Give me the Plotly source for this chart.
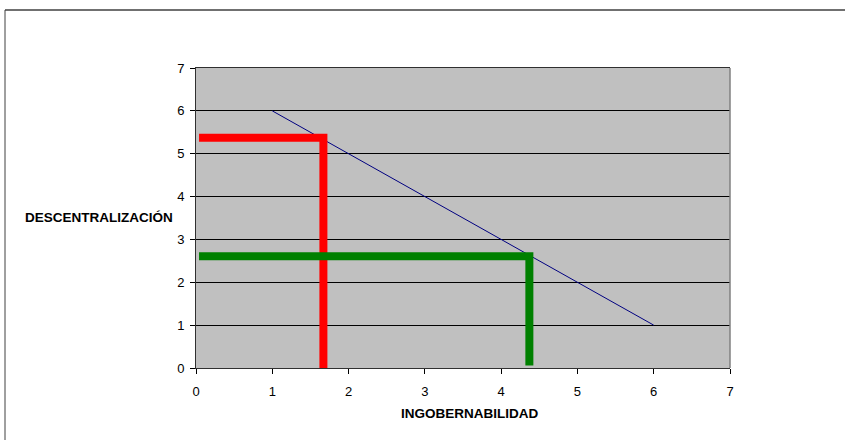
import plotly.graph_objects as go

# Data
line_x = [1, 6]
line_y = [6, 1]
red_x = [0.04, 1.67, 1.67]
red_y = [5.37, 5.37, -0.11]
green_x = [0.04, 4.37, 4.37]
green_y = [2.61, 2.61, 0.06]
tick_vals = [0, 1, 2, 3, 4, 5, 6, 7]
x_title = "INGOBERNABILIDAD"
y_title = "DESCENTRALIZACIÓN"

fig = go.Figure()
fig.add_trace(go.Scatter(x=line_x, y=line_y, mode="lines",
                         line=dict(color="#000080", width=1), cliponaxis=False))
fig.add_trace(go.Scatter(x=red_x, y=red_y, mode="lines",
                         line=dict(color="#FF0000", width=8), cliponaxis=False))
fig.add_trace(go.Scatter(x=green_x, y=green_y, mode="lines",
                         line=dict(color="#008000", width=8), cliponaxis=False))

font = dict(family="Liberation Sans, Arial, sans-serif", size=13, color="#000000")
title_font = dict(family="Liberation Sans, Arial, sans-serif", size=13.5, color="#000000")

fig.update_layout(
    width=845, height=440,
    margin=dict(l=196, r=115, t=68, b=72),
    paper_bgcolor="#FFFFFF",
    plot_bgcolor="#C0C0C0",
    showlegend=False,
    font=font,
    xaxis=dict(range=[0, 7], tickvals=tick_vals, showgrid=False, zeroline=False,
               showline=True, linecolor="#303030", linewidth=1, mirror=True,
               ticks="outside", ticklen=5, tickcolor="#000000", tickfont=font,
               ticklabelstandoff=6),
    yaxis=dict(range=[0, 7], tickvals=tick_vals, showgrid=True, gridcolor="#000000",
               gridwidth=1, zeroline=False,
               showline=True, linecolor="#303030", linewidth=1, mirror=False,
               ticks="outside", ticklen=5, tickcolor="#000000", tickfont=font,
               ticklabelstandoff=3),
    annotations=[
        dict(text="<b>" + y_title + "</b>", xref="paper", yref="paper",
             x=(99 - 196) / 534, y=(368 - 217) / 300, showarrow=False,
             xanchor="center", yanchor="middle", font=title_font),
        dict(text="<b>" + x_title + "</b>", xref="paper", yref="paper",
             x=(469 - 196) / 534, y=(368 - 413) / 300, showarrow=False,
             xanchor="center", yanchor="middle", font=title_font),
    ],
    shapes=[
        dict(type="line", xref="paper", yref="paper",
             x0=1, x1=1, y0=0, y1=1,
             line=dict(color="#808080", width=1.5)),
        dict(type="line", xref="paper", yref="paper",
             x0=(5 - 196) / 534, x1=(845 - 196) / 534,
             y0=(368 - 10) / 300, y1=(368 - 10) / 300,
             line=dict(color="#404040", width=1.5)),
        dict(type="line", xref="paper", yref="paper",
             x0=(5 - 196) / 534, x1=(5 - 196) / 534,
             y0=(368 - 10) / 300, y1=(368 - 440) / 300,
             line=dict(color="#404040", width=1)),
    ],
)

fig.write_html("out.html", config={"displayModeBar": False},
               post_script="document.body.style.margin='0';")
